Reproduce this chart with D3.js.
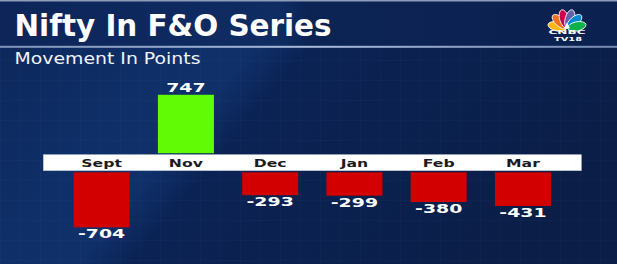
<!DOCTYPE html>
<html>
<head>
<meta charset="utf-8">
<script src="https://cdn.jsdelivr.net/npm/d3@7"></script>
<style>
  html, body { margin: 0; padding: 0; background: #0b2150; }
  svg { display: block; }
  text { font-family: "DejaVu Sans", sans-serif; }
</style>
</head>
<body>
<svg id="chart" width="617" height="264"></svg>
<script>
// ---- data ----
const months = ["Sept", "Nov", "Dec", "Jan", "Feb", "Mar"];
const values = [-704, 747, -293, -299, -380, -431];
const titleText = "Nifty In F&O Series";
const subtitleText = "Movement In Points";

const W = 617, H = 264;
const svg = d3.select("#chart");
const defs = svg.append("defs");

// background gradient
const bg = defs.append("linearGradient").attr("id", "bg")
  .attr("x1", "0").attr("y1", "0").attr("x2", "1").attr("y2", "0.35");
[["0", "#0c2659"], ["0.3", "#0f2f68"], ["0.42", "#10306a"], ["0.5", "#0b2354"], ["1", "#0a1e48"]]
  .forEach(([o, c]) => bg.append("stop").attr("offset", o).attr("stop-color", c));
svg.append("rect").attr("width", W).attr("height", H).attr("fill", "url(#bg)");

// subtle grid pattern
const pat = defs.append("pattern").attr("id", "grid").attr("patternUnits", "userSpaceOnUse")
  .attr("width", 20).attr("height", 20);
pat.append("path").attr("d", "M20 0 L0 0 0 20").attr("fill", "none")
  .attr("stroke", "#5a7ab8").attr("stroke-opacity", 0.10).attr("stroke-width", 1);
svg.append("rect").attr("y", 48).attr("width", W).attr("height", H - 48).attr("fill", "url(#grid)");

// header band
const hg = defs.append("linearGradient").attr("id", "hdr").attr("x1", "0").attr("x2", "1");
[["0", "#0d2559"], ["0.45", "#0f2c63"], ["0.5", "#0c2454"], ["1", "#0b2150"]]
  .forEach(([o, c]) => hg.append("stop").attr("offset", o).attr("stop-color", c));
svg.append("rect").attr("width", W).attr("height", 46).attr("fill", "url(#hdr)");
svg.append("rect").attr("x", 0).attr("y", 0).attr("width", W).attr("height", 1.5).attr("fill", "#8d9cb8");
const lg = defs.append("linearGradient").attr("id", "line").attr("x1", "0").attr("x2", "1");
[["0", "#7f93b8"], ["0.5", "#a9bbdb"], ["1", "#7488b0"]]
  .forEach(([o, c]) => lg.append("stop").attr("offset", o).attr("stop-color", c));
svg.append("rect").attr("x", 0).attr("y", 45.8).attr("width", W).attr("height", 2).attr("fill", "url(#line)");

// helper: stretch text horizontally to match wide broadcast fonts
function stretch(sel, factor) {
  sel.each(function () {
    const w = this.getComputedTextLength();
    d3.select(this).attr("textLength", w * factor).attr("lengthAdjust", "spacingAndGlyphs");
  });
}
function fitTo(sel, width) {
  sel.attr("textLength", width).attr("lengthAdjust", "spacingAndGlyphs");
}

// titles
svg.append("text").attr("x", 14.5).attr("y", 36).attr("fill", "#fff")
  .attr("font-size", 30.5).attr("font-weight", "bold").text(titleText).call(fitTo, 317);
svg.append("text").attr("x", 14.5).attr("y", 64).attr("fill", "#f2f4f8")
  .attr("font-family", "Roboto, 'DejaVu Sans', sans-serif")
  .attr("font-size", 15).attr("font-weight", 500).text(subtitleText).call(fitTo, 186);

// logo (peacock)
const logo = svg.append("g").attr("transform", "translate(567,28.5)");
const petalColors = ["#fcb711", "#f37021", "#cc004c", "#6460aa", "#0089d0", "#0db14b"];
const petalAngles = [-78, -47, -16, 16, 47, 78];
petalColors.forEach((c, i) => {
  logo.append("ellipse").attr("cx", 0).attr("cy", -10).attr("rx", 4.6).attr("ry", 9.4)
    .attr("transform", `rotate(${petalAngles[i]})`).attr("fill", c)
    .attr("stroke", "#fff").attr("stroke-width", 0.8);
});
logo.append("path").attr("d", "M-3,0 L0,-6 L3,0 Z").attr("fill", "#fff");
svg.append("text").attr("x", 567).attr("y", 34.3).attr("text-anchor", "middle")
  .attr("fill", "#fff").attr("font-size", 5.6).attr("font-weight", "bold").text("CNBC").call(fitTo, 37);
svg.append("text").attr("x", 568).attr("y", 40.8).attr("text-anchor", "middle")
  .attr("fill", "#fff").attr("font-size", 5.6).attr("font-weight", "bold").text("TV18").call(fitTo, 28);

// ---- chart ----
const x = d3.scaleBand().domain(months).range([43.3, 581.3]).paddingInner(0.335).paddingOuter(0.36);
const h = d3.scaleLinear().domain([0, 1000]).range([0, 78.2]);
const bandTop = 154.7, bandBottom = 170.7;
const data = months.map((m, i) => ({ m, v: values[i] }));

// white category band
const [r0, r1] = x.range();
svg.append("rect").attr("x", r0).attr("y", bandTop).attr("width", r1 - r0).attr("height", bandBottom - bandTop)
  .attr("fill", "#ffffff").attr("stroke", "#b9c2d3").attr("stroke-width", 0.6);

// bars
svg.append("g").selectAll("rect").data(data).join("rect")
  .attr("x", d => x(d.m))
  .attr("width", x.bandwidth())
  .attr("y", d => d.v >= 0 ? bandTop - 1.5 - h(d.v) : bandBottom + 1.6)
  .attr("height", d => h(Math.abs(d.v)))
  .attr("fill", d => d.v >= 0 ? "#62fb06" : "#d30000");

// category labels
svg.append("g").selectAll("text").data(data).join("text")
  .attr("x", d => x(d.m) + x.bandwidth() / 2)
  .attr("y", 166.6)
  .attr("text-anchor", "middle")
  .attr("fill", "#1b1b1f")
  .attr("font-family", "Roboto, 'DejaVu Sans', sans-serif")
  .attr("font-size", 10.8)
  .attr("font-weight", 700)
  .text(d => d.m)
  .call(stretch, 1.45);

// value labels
svg.append("g").selectAll("text").data(data).join("text")
  .attr("x", d => x(d.m) + x.bandwidth() / 2)
  .attr("y", d => d.v >= 0 ? bandTop - 1.5 - h(d.v) - 2.4 : bandBottom + 1.6 + h(Math.abs(d.v)) + 11)
  .attr("text-anchor", "middle")
  .attr("fill", "#ffffff")
  .attr("font-size", 12.6)
  .attr("font-weight", "bold")
  .text(d => String(d.v))
  .call(stretch, 1.5);
</script>
</body>
</html>
